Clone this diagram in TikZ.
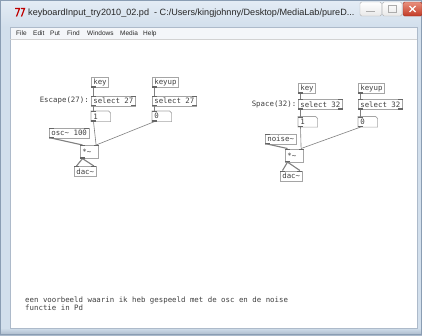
\documentclass[tikz,border=0pt]{standalone}
\usepackage{fontspec}
\setmainfont{Liberation Sans}
\newfontfamily\pdmono{DejaVu Sans Mono}
\usetikzlibrary{calc}
\definecolor{frametop}{HTML}{E4ECF5}
\definecolor{frame}{HTML}{D2DFEC}
\definecolor{framebot}{HTML}{A9B9CB}
\definecolor{frameedge}{HTML}{8A9DB3}
\definecolor{menubg}{HTML}{F4F6F9}
\definecolor{boxc}{HTML}{A5A5A5}
\definecolor{txtc}{HTML}{404040}
\definecolor{wire}{HTML}{808080}
\definecolor{iolet}{HTML}{666666}
\definecolor{closetop}{HTML}{E8907E}
\definecolor{closebot}{HTML}{C23A26}
\tikzset{
  pdbox/.style={draw=boxc, line width=0.6pt, fill=white, inner xsep=2pt, inner ysep=0pt,
    minimum height=10pt, anchor=north west, font=\pdmono\fontsize{7.4}{8}\selectfont, text=txtc},
  numbox/.style={pdbox, draw=none, text width=15pt, align=left},
  flagline/.style={draw=boxc, line width=0.6pt},
  pdtext/.style={inner sep=0pt, font=\pdmono\fontsize{7.4}{7.6}\selectfont, text=txtc},
  wirec/.style={draw=wire, line width=0.6pt},
  sigwire/.style={draw=wire, line width=1.1pt},
  menutext/.style={inner sep=0pt, anchor=base west, font=\fontsize{6.5}{7}\selectfont, text=black!85},
}
\newcommand\pdinL[1]{\fill[iolet] (#1.north west) rectangle ++(5,1.4);}
\newcommand\pdinR[1]{\fill[iolet] (#1.north east) rectangle ++(-5,1.4);}
\newcommand\pdoutL[1]{\fill[iolet] (#1.south west) rectangle ++(5,-1.4);}
\newcommand\pdoutR[1]{\fill[iolet] (#1.south east) rectangle ++(-5,-1.4);}
\newcommand\pdflag[1]{\draw[flagline] (#1.north west) -- ($(#1.north east)+(-2,0)$) -- ($(#1.north east)+(0,2)$) -- (#1.south east) -- (#1.south west) -- cycle;}
\begin{document}
\begin{tikzpicture}[x=1pt,y=-1pt]
\useasboundingbox (0,0) rectangle (422,335);
% window frame
\shade[top color=frametop, bottom color=frame] (0,0) rectangle (422,27);
\fill[frame] (0,27) rectangle (422,328);
\shade[top color=frame, bottom color=framebot] (0,328) rectangle (422,335);
\draw[frameedge, line width=0.6pt] (0.3,0.3) rectangle (421.7,334.7);
\fill[menubg] (10,27) rectangle (417,39);
\fill[white] (10,39) rectangle (417,328);
\draw[frameedge!70, line width=0.5pt] (10,27) rectangle (417,328);
\draw[gray!35, line width=0.4pt] (10,39) -- (417,39);
% icon
\draw[red!75!black, line width=1.2pt] (15,8.5) -- (19.5,8.5) -- (16.5,16.5);
\draw[red!75!black, line width=1.2pt] (21,8.5) -- (24.5,8.5) -- (21.5,16.5);
% title
\node[anchor=base west, inner sep=0pt, font=\fontsize{9.1}{10}\selectfont, text=black!85] (title) at (28,15.5)
  {keyboardInput\_try2010\_02.pd\ \ - C:/Users/kingjohnny/Desktop/MediaLab/pureD...};
% window buttons
\shade[top color=white, bottom color=gray!18, draw=gray!60, rounded corners=1.5pt] (360,2) rectangle (381.5,16);
\draw[gray!65, line width=1.4pt] (366,11.5) -- (375,11.5);
\shade[top color=white, bottom color=gray!18, draw=gray!60, rounded corners=1.5pt] (382.5,2) rectangle (402,16);
\draw[gray!65, line width=0.9pt] (388.5,5.5) rectangle (396,12);
\shade[top color=closetop, bottom color=closebot, draw=closebot!80!black, rounded corners=1.5pt] (403,2) rectangle (422,16);
\draw[white, line width=1.3pt] (409.5,6) -- (415.5,12) (415.5,6) -- (409.5,12);
% menu
\node[menutext] (mFile) at (16,35.5) {File};
\node[menutext] (mEdit) at (33,35.5) {Edit};
\node[menutext] (mPut) at (50,35.5) {Put};
\node[menutext] (mFind) at (67,35.5) {Find};
\node[menutext] (mWin) at (87,35.5) {Windows};
\node[menutext] (mMedia) at (120,35.5) {Media};
\node[menutext] (mHelp) at (143,35.5) {Help};

% ---------- left patch ----------
\node[pdbox] (keyL) at (91,77) {key};
\node[pdbox] (selL1) at (91,95.5) {select 27};
\node[numbox] (numL1) at (91,111) {1};
\node[pdbox] (keyupL) at (152,77) {keyup};
\node[pdbox] (selL2) at (152,95.5) {select 27};
\node[numbox] (numL2) at (152,111) {0};
\node[pdtext, anchor=east] (escL) at (89,100.5) {Escape(27):};
\node[pdbox] (oscL) at (49,127.5) {osc\textasciitilde\ 100};
\node[pdbox, text width=14pt, align=left, minimum height=13pt] (mulL) at (80,145) {*\textasciitilde};
\node[pdbox] (dacL) at (74,166) {dac\textasciitilde};
\pdflag{numL1} \pdflag{numL2}

% ---------- right patch ----------
\node[pdbox] (keyR) at (298,83) {key};
\node[pdbox] (selR1) at (298,99) {select 32};
\node[numbox] (numR1) at (298,116.5) {1};
\node[pdbox] (keyupR) at (358,83) {keyup};
\node[pdbox] (selR2) at (358,99) {select 32};
\node[numbox] (numR2) at (358,116.5) {0};
\node[pdtext, anchor=east] (spcR) at (296.5,104.5) {Space(32):};
\node[pdbox] (noiseR) at (265,133.5) {noise\textasciitilde};
\node[pdbox, text width=14pt, align=left, minimum height=13pt] (mulR) at (285,148.5) {*\textasciitilde};
\node[pdbox] (dacR) at (280,170.5) {dac\textasciitilde};
\pdflag{numR1} \pdflag{numR2}

% comment
\node[pdtext, anchor=north west, align=left] (cmt) at (25,297)
  {een voorbeeld waarin ik heb gespeeld met de osc en de noise\\functie in Pd};

% ---------- connections ----------
\foreach \a/\b in {keyL/selL1, selL1/numL1, keyupL/selL2, selL2/numL2,
                   keyR/selR1, selR1/numR1, keyupR/selR2, selR2/numR2} {
  \draw[wirec] ($(\a.south west)+(2.5,0)$) -- ($(\b.north west)+(2.5,0)$);
}
\draw[wirec] ($(numL1.south west)+(2.5,0)$) -- ($(mulL.north east)+(-2.5,0)$);
\draw[wirec] ($(numL2.south west)+(2.5,0)$) -- ($(mulL.north east)+(-2.5,0)$);
\draw[sigwire] ($(oscL.south west)+(2.5,0)$) -- ($(mulL.north west)+(2.5,0)$);
\draw[sigwire] ($(mulL.south west)+(2.5,0)$) -- ($(dacL.north west)+(2.5,0)$);
\draw[sigwire] ($(mulL.south west)+(2.5,0)$) -- ($(dacL.north east)+(-2.5,0)$);

\draw[wirec] ($(numR1.south west)+(2.5,0)$) -- ($(mulR.north east)+(-2.5,0)$);
\draw[wirec] ($(numR2.south west)+(2.5,0)$) -- ($(mulR.north east)+(-2.5,0)$);
\draw[sigwire] ($(noiseR.south west)+(2.5,0)$) -- ($(mulR.north west)+(2.5,0)$);
\draw[sigwire] ($(mulR.south west)+(2.5,0)$) -- ($(dacR.north west)+(2.5,0)$);
\draw[sigwire] ($(mulR.south west)+(2.5,0)$) -- ($(dacR.north east)+(-2.5,0)$);

% ---------- inlets / outlets ----------
\foreach \n in {keyL, keyupL, keyR, keyupR} { \pdoutL{\n} }
\foreach \n in {selL1, selL2, selR1, selR2} { \pdinL{\n} \pdinR{\n} \pdoutL{\n} \pdoutR{\n} }
\foreach \n in {numL1, numL2, numR1, numR2} { \pdinL{\n} \pdoutL{\n} }
\pdinL{oscL} \pdinR{oscL} \pdoutL{oscL}
\pdinL{noiseR} \pdoutL{noiseR}
\foreach \n in {mulL, mulR} { \pdinL{\n} \pdinR{\n} \pdoutL{\n} }
\foreach \n in {dacL, dacR} { \pdinL{\n} \pdinR{\n} }
\end{tikzpicture}
\end{document}
